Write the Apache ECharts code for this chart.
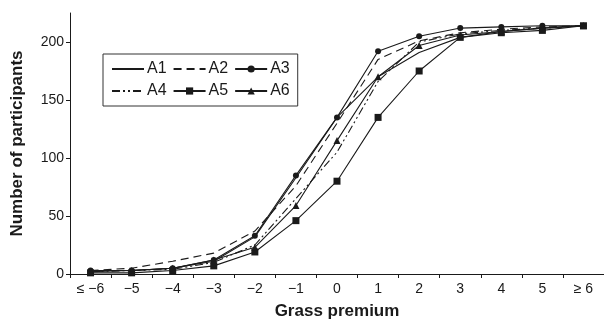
<!DOCTYPE html>
<html>
<head>
<meta charset="utf-8">
<script src="https://cdn.jsdelivr.net/npm/echarts@6/dist/echarts.min.js"></script>
<style>html,body{margin:0;padding:0;background:#fff}#c{width:604px;height:325px}</style>
</head>
<body>
<div id="c"></div>
<script>
var categories = ['\u2264 \u22126', '\u22125', '\u22124', '\u22123', '\u22122', '\u22121', '0', '1', '2', '3', '4', '5', '\u2265 6'];
var yTicks = [0, 50, 100, 150, 200];
var A1 = [3, 3, 5, 11, 32, 83, 135, 170, 191, 204, 209, 212, 214];
var A2 = [3, 5, 11, 18, 37, 76, 130, 185, 201, 208, 211, 213, 214];
var A3 = [3, 3, 5, 12, 33, 85, 135, 192, 205, 212, 213, 214, 214];
var A4 = [2, 3, 4, 10, 25, 65, 105, 166, 200, 207, 210, 212, 214];
var A5 = [1, 1, 3, 7, 19, 46, 80, 135, 175, 204, 208, 210, 214];
var A6 = [2, 3, 5, 12, 23, 59, 115, 170, 197, 206, 209, 212, 214];

var col = '#1a1a1a';
var font = 'Liberation Sans, Arial, sans-serif';
function mk(name, data, type, symbol, size) {
  return {
    name: name, type: 'line', data: data,
    symbol: symbol || 'none', symbolSize: size || 0, showSymbol: !!symbol,
    lineStyle: { color: col, width: 1.1, type: type || 'solid' },
    itemStyle: { color: col },
    emphasis: { disabled: true },
    animation: false
  };
}
var noSym = { opacity: 0 };
var chart = echarts.init(document.getElementById('c'), null, { renderer: 'canvas' });
chart.setOption({
  backgroundColor: '#fff',
  animation: false,
  grid: { left: 70, top: 13, width: 537, height: 265.5, containLabel: false },
  legend: {
    left: 103, top: 54, width: 188,
    padding: [7, 8, 7, 8],
    borderColor: '#333', borderWidth: 1,
    itemWidth: 32, itemHeight: 9, itemGap: 6,
    textStyle: { fontFamily: font, fontSize: 16, color: col, padding: [0, 0, 0, -2] },
    data: [
      { name: 'A1', itemStyle: noSym },
      { name: 'A2', itemStyle: noSym },
      'A3',
      { name: 'A4', itemStyle: noSym },
      'A5', 'A6'
    ]
  },
  xAxis: {
    type: 'category', data: categories, boundaryGap: true,
    name: 'Grass premium', nameLocation: 'middle', nameGap: 29,
    nameTextStyle: { fontFamily: font, fontSize: 17, fontWeight: 'bold', color: col },
    axisLine: { lineStyle: { color: col, width: 1 } },
    axisTick: { show: true, length: 4, lineStyle: { color: col } },
    axisLabel: { fontFamily: font, fontSize: 14, color: col, margin: 8 }
  },
  yAxis: {
    type: 'value', min: 0, max: 225, interval: 50,
    name: 'Number of participants', nameLocation: 'middle', nameGap: 44,
    nameTextStyle: { fontFamily: font, fontSize: 17, fontWeight: 'bold', color: col },
    splitLine: { show: false },
    axisLine: { show: true, lineStyle: { color: col, width: 1 } },
    axisTick: { show: true, length: 4, lineStyle: { color: col }, customValues: yTicks },
    axisLabel: { fontFamily: font, fontSize: 14, color: col, margin: 6, customValues: yTicks }
  },
  series: [
    mk('A1', A1, 'solid'),
    mk('A2', A2, [8, 5]),
    mk('A3', A3, 'solid', 'circle', 6),
    mk('A4', A4, [8, 3, 2, 3, 2, 3]),
    mk('A5', A5, 'solid', 'rect', 7),
    mk('A6', A6, 'solid', 'triangle', 7)
  ]
});
</script>
</body>
</html>
